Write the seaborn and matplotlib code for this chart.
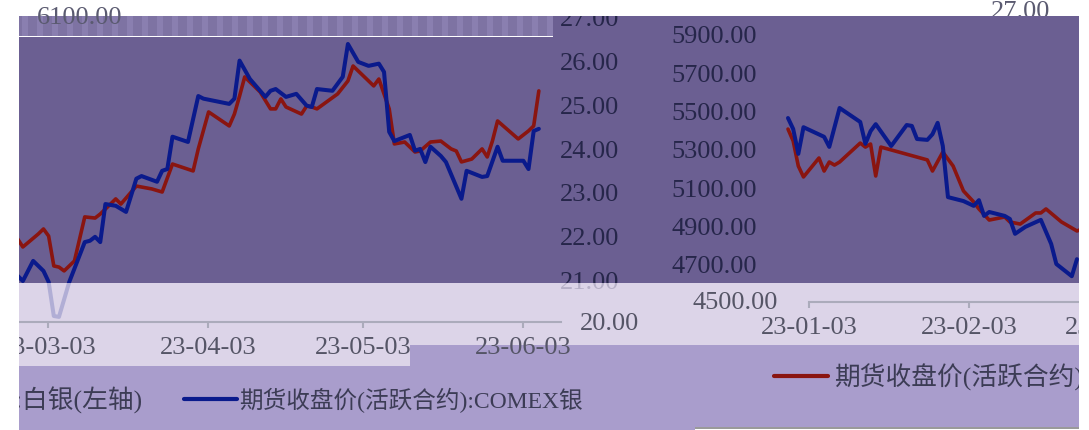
import matplotlib
matplotlib.use("Agg")
import matplotlib.pyplot as plt
import matplotlib.dates as mdates
from matplotlib.patches import Rectangle
from matplotlib.lines import Line2D
import pandas as pd
import seaborn as sns

# two pieces of the same silver chart: Mar-Jun on the left, Jan-Feb on the right
left_blue_dates = ["03-01", "03-02", "03-04", "03-06", "03-07", "03-08", "03-09", "03-11",
                   "03-14", "03-15", "03-16", "03-17", "03-18", "03-20", "03-22", "03-24",
                   "03-25", "03-28", "03-29", "03-30", "03-31", "04-03", "04-05", "04-06",
                   "04-11", "04-12", "04-13", "04-15", "04-18", "04-19", "04-20", "04-22",
                   "04-24", "04-26", "04-27", "04-28", "05-01", "05-03", "05-04", "05-06",
                   "05-08", "05-10", "05-11", "05-12", "05-13", "05-16", "05-17", "05-18",
                   "05-19", "05-20", "05-22", "05-23", "05-26", "05-27", "05-30", "05-31",
                   "06-02", "06-03", "06-07", "06-08", "06-09", "06-10"]
left_blue = [21.08, 20.96, 21.42, 21.19, 20.94, 20.16, 20.14, 20.94,
             21.85, 21.88, 21.97, 21.85, 22.72, 22.68, 22.54, 23.30,
             23.36, 23.23, 23.48, 23.52, 24.26, 24.14, 25.19, 25.13,
             25.01, 25.13, 26.00, 25.58, 25.17, 25.31, 25.35, 25.17,
             25.24, 24.97, 24.94, 25.35, 25.31, 25.63, 26.38, 25.97,
             25.88, 25.93, 25.74, 24.37, 24.16, 24.30, 23.94, 23.98,
             23.68, 24.03, 23.82, 23.68, 22.84, 23.48, 23.34, 23.36,
             24.03, 23.71, 23.71, 23.52, 24.39, 24.44]

left_red_dates = ["03-01", "03-02", "03-05", "03-06", "03-07", "03-08", "03-09", "03-10",
                  "03-12", "03-14", "03-16", "03-17", "03-18", "03-20", "03-21", "03-24",
                  "03-27", "03-29", "03-31", "04-04", "04-05", "04-07", "04-11", "04-12",
                  "04-13", "04-14", "04-17", "04-19", "04-20", "04-21", "04-22", "04-25",
                  "04-26", "04-27", "04-28", "05-02", "05-04", "05-05", "05-09", "05-10",
                  "05-12", "05-13", "05-15", "05-17", "05-18", "05-20", "05-22", "05-24",
                  "05-25", "05-26", "05-28", "05-30", "05-31", "06-01", "06-02", "06-06",
                  "06-08", "06-09", "06-10"]
left_red = [4939, 4897, 4965, 4991, 4954, 4798, 4792, 4772,
            4824, 5054, 5048, 5069, 5095, 5148, 5121, 5215,
            5200, 5184, 5330, 5294, 5409, 5602, 5529, 5591,
            5685, 5785, 5706, 5618, 5618, 5670, 5628, 5591,
            5633, 5628, 5618, 5696, 5764, 5842, 5738, 5774,
            5618, 5435, 5445, 5393, 5398, 5445, 5450, 5409,
            5398, 5341, 5356, 5409, 5367, 5450, 5555, 5461,
            5503, 5529, 5712]

right_blue_dates = ["01-03", "01-04", "01-05", "01-06", "01-10", "01-11", "01-13", "01-17",
                    "01-18", "01-19", "01-20", "01-23", "01-26", "01-27", "01-28", "01-30",
                    "01-31", "02-01", "02-02", "02-03", "02-06", "02-08", "02-09", "02-10",
                    "02-11", "02-14", "02-15", "02-16", "02-18", "02-21", "02-23", "02-24",
                    "02-27", "02-28"]
right_blue = [24.21, 23.96, 23.39, 24.00, 23.78, 23.55, 24.44, 24.12,
              23.62, 23.91, 24.07, 23.57, 24.05, 24.03, 23.73, 23.71,
              23.84, 24.10, 23.57, 22.40, 22.31, 22.20, 22.33, 21.97,
              22.06, 21.97, 21.90, 21.56, 21.72, 21.88, 21.33, 20.87,
              20.59, 20.98]

right_red_dates = ["01-03", "01-04", "01-05", "01-06", "01-09", "01-10", "01-11", "01-12",
                   "01-13", "01-17", "01-18", "01-19", "01-20", "01-21", "01-30", "01-31",
                   "02-02", "02-04", "02-06", "02-08", "02-09", "02-11", "02-14", "02-15",
                   "02-17", "02-20", "02-21", "02-22", "02-25", "02-28", "03-01"]
right_red = [5403, 5341, 5210, 5153, 5252, 5184, 5231, 5215,
             5231, 5330, 5309, 5325, 5158, 5309, 5242, 5184,
             5283, 5210, 5080, 5022, 4986, 4928, 4944, 4918,
             4907, 4965, 4965, 4986, 4918, 4871, 4881]

left_ticks = ["2023-03-03", "2023-04-03", "2023-05-03", "2023-06-03"]
right_ticks = ["2023-01-03", "2023-02-03", "2023-03-03"]
left_axis_ticks = [4700, 4900, 5100, 5300, 5500, 5700, 5900]
right_axis_ticks = [21, 22, 23, 24, 25, 26, 27]

red_name = "期货收盘价(活跃合约):白银(左轴)"
blue_name = "期货收盘价(活跃合约):COMEX银"

BLUE = "#0a1a8c"
RED = "#8a1510"
PURPLE = "#6b5f92"
LIGHT = "#dcd4e8"
MID = "#a99dcc"
DARK_TXT = "#26264a"
GRAY_TXT = "#555566"
NUM = 19

W, H = 1089, 431
DAY = 5.16  # pixels per day in both crops

sns.set_theme(style="white")
plt.rcParams["font.family"] = ["Liberation Serif", "Noto Sans CJK SC"]

fig = plt.figure(figsize=(W / 100, H / 100), dpi=100)


def box(x0, y0, x1, y1):
    return [x0 / W, 1 - y1 / H, (x1 - x0) / W, (y1 - y0) / H]


def rect(x0, y0, x1, y1, color, z, alpha=1.0):
    fig.add_artist(Rectangle((x0 / W, 1 - y1 / H), (x1 - x0) / W, (y1 - y0) / H,
                             transform=fig.transFigure, facecolor=color,
                             edgecolor="none", alpha=alpha, zorder=z))


def ftext(x, y, s, **kw):
    fig.text(x / W, 1 - y / H, s, **kw)


def to_dates(days):
    return pd.to_datetime(["2023-" + d for d in days])


def day_shift(base, px):
    return pd.Timestamp(base) + pd.Timedelta(days=px / DAY)


# background blocks
rect(19, 17, 553, 37, "#7e73a3", -10)
for sx in range(22, 553, 15):
    rect(sx, 17, sx + 6, 37, "#8a7fb0", -9)
rect(19, 38, 553, 284, PURPLE, -10)
rect(553, 17, 1079, 284, PURPLE, -10)
rect(19, 284, 1079, 346, LIGHT, -10)
rect(19, 346, 1079, 428, MID, -10)
rect(19, 428, 695, H, MID, -10)
rect(19, 346, 410, 367, LIGHT, -9)
rect(695, 428, 1079, 430, "#9a9a9a", -9)

# left crop (Mar - Jun)
ax_l = fig.add_axes(box(19, 17, 553, 324))
ax_l2 = ax_l.twinx()
sns.lineplot(x=to_dates(left_red_dates), y=left_red, ax=ax_l, color=RED, linewidth=2.6,
             estimator=None, sort=False, legend=False)
sns.lineplot(x=to_dates(left_blue_dates), y=left_blue, ax=ax_l2, color=BLUE, linewidth=2.9,
             estimator=None, sort=False, legend=False)
ax_l.set_xlim(day_shift("2023-03-03", 19 - 28), day_shift("2023-03-03", 553 - 28))
ax_l.set_ylim(4500, 6103)
ax_l2.set_ylim(20, 27.02)

# right crop (Jan - Feb)
ax_r = fig.add_axes(box(765, 17, 1079, 303))
ax_r2 = ax_r.twinx()
sns.lineplot(x=to_dates(right_red_dates), y=right_red, ax=ax_r, color=RED, linewidth=2.6,
             estimator=None, sort=False, legend=False)
sns.lineplot(x=to_dates(right_blue_dates), y=right_blue, ax=ax_r2, color=BLUE, linewidth=2.9,
             estimator=None, sort=False, legend=False)
ax_r.set_xlim(day_shift("2023-01-03", 765 - 788), day_shift("2023-01-03", 1079 - 788))
ax_r.set_ylim(4500, 5993.5)
ax_r2.set_ylim(20, 26.545)

for a in [ax_l, ax_l2, ax_r, ax_r2]:
    a.patch.set_visible(False)
    for s in a.spines.values():
        s.set_visible(False)
    a.set_xlabel("")
    a.set_ylabel("")
    a.set_xticks([])

ax_l.set_yticks([])
ax_l2.set_yticks(right_axis_ticks)
ax_l2.set_yticklabels([f"{v:.2f}" for v in right_axis_ticks])
ax_l2.tick_params(axis="y", right=True, length=0, pad=5, labelsize=NUM, labelcolor=DARK_TXT)

ax_r.set_yticks(left_axis_ticks)
ax_r.set_yticklabels([f"{v:.2f}" for v in left_axis_ticks])
ax_r.tick_params(axis="y", left=True, length=0, pad=5.8, labelsize=NUM, labelcolor=DARK_TXT)
ax_r2.set_yticks([])

# light band drawn over the lines, lines show through faintly
rect(19, 284, 1079, 346, LIGHT, 5, alpha=0.8)

# date axes sitting in the light band
for pos, base, x0, x1, ticks in [((19, 284, 561, 323), "2023-03-03", 48 - 19, 561 - 48, left_ticks),
                                 ((809, 270, 1140, 303), "2023-01-03", 0, 1140 - 809, right_ticks)]:
    bx = fig.add_axes(box(*pos), zorder=6)
    bx.patch.set_visible(False)
    for k, s in bx.spines.items():
        s.set_visible(k == "bottom")
    bx.spines["bottom"].set_color("#ababbb")
    bx.spines["bottom"].set_linewidth(1.5)
    bx.set_xlim(day_shift(base, -x0), day_shift(base, x1))
    bx.set_yticks([])
    bx.set_xticks(pd.to_datetime(ticks))
    bx.xaxis.set_major_formatter(mdates.DateFormatter("%y-%m-%d"))
    bx.tick_params(axis="x", bottom=True, length=4, width=1.5, color="#ababbb",
                   pad=6, labelsize=NUM, labelcolor=GRAY_TXT)

ftext(580, 324, "20.00", fontsize=NUM, color=GRAY_TXT, ha="left", va="center", zorder=7)
ftext(778, 303, "4500.00", fontsize=NUM, color=GRAY_TXT, ha="right", va="center", zorder=7)
ftext(122, 18, "6100.00", fontsize=NUM, color="#5a5a70", ha="right", va="center", zorder=21)
ftext(1050, 12, "27.00", fontsize=NUM, color="#5a5a70", ha="right", va="center", zorder=-11)

# legend pieces
ftext(142, 400, red_name, fontsize=18.5, color="#3c3c55", ha="right", va="center", zorder=8)
fig.add_artist(Line2D([184 / W, 237 / W], [1 - 400 / H] * 2, transform=fig.transFigure,
                      color=BLUE, linewidth=3, zorder=8))
ftext(239, 400, blue_name, fontsize=17, color="#3c3c55", ha="left", va="center", zorder=8)
fig.add_artist(Line2D([774 / W, 828 / W], [1 - 377 / H] * 2, transform=fig.transFigure,
                      color=RED, linewidth=3, zorder=8))
ftext(834, 377, red_name, fontsize=18.5, color="#3c3c55", ha="left", va="center", zorder=8)

# white borders that cut the crops
rect(0, 0, 19, H, "white", 20)
rect(1079, 0, W, H, "white", 20)
rect(540, 0, 660, 17, "white", 20)

fig.savefig("out.png", dpi=100)
